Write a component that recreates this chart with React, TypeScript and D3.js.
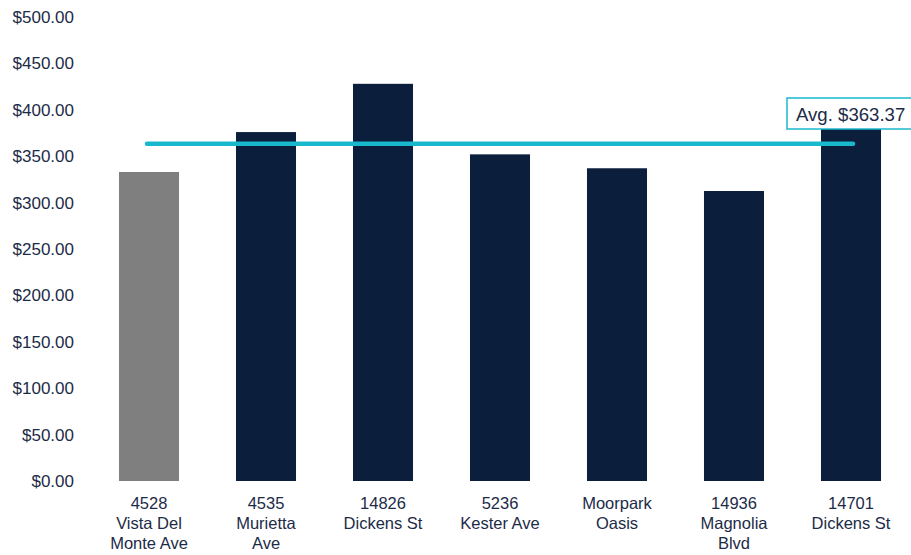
import React from "react";
import * as d3 from "d3";

const categories: string[][] = [
  ["4528", "Vista Del", "Monte Ave"],
  ["4535", "Murietta", "Ave"],
  ["14826", "Dickens St"],
  ["5236", "Kester Ave"],
  ["Moorpark", "Oasis"],
  ["14936", "Magnolia", "Blvd"],
  ["14701", "Dickens St"],
];
const values: number[] = [333, 376, 428, 352, 337, 312.5, 405];
const highlight: boolean[] = [true, false, false, false, false, false, false];
const average = 363.37;
const yTicks: number[] = [0, 50, 100, 150, 200, 250, 300, 350, 400, 450, 500];

const W = 911;
const H = 555;
const FONT = "'Liberation Sans', Arial, sans-serif";
const TEXT = "#1c2b47";

export default function App() {
  const x = d3
    .scaleBand<number>()
    .domain(d3.range(values.length))
    .range([90.5, 909.5])
    .paddingInner(0.487)
    .paddingOuter(0.2435);
  const y = d3.scaleLinear().domain([0, 500]).range([481, 17]);
  const fmt = (v: number) => "$" + d3.format(",.2f")(v);
  const cx = (i: number) => (x(i) as number) + x.bandwidth() / 2;
  const avgY = y(average);
  return (
    <svg
      width={W}
      height={H}
      style={{ position: "absolute", left: 0, top: 0, background: "#fff" }}
      fontFamily={FONT}
    >
      {yTicks.map((t) => (
        <text
          key={t}
          x={74}
          y={y(t)}
          dy="0.35em"
          textAnchor="end"
          fontSize={17}
          fill={TEXT}
        >
          {fmt(t)}
        </text>
      ))}
      {values.map((v, i) => (
        <rect
          key={i}
          x={x(i)}
          y={y(v)}
          width={x.bandwidth()}
          height={y(0) - y(v)}
          fill={highlight[i] ? "#7f7f7f" : "#0b1f3d"}
        />
      ))}
      {categories.map((lines, i) => (
        <text
          key={i}
          x={cx(i)}
          y={509}
          textAnchor="middle"
          fontSize={16.5}
          fill={TEXT}
        >
          {lines.map((l, j) => (
            <tspan key={j} x={cx(i)} dy={j === 0 ? 0 : 20}>
              {l}
            </tspan>
          ))}
        </text>
      ))}
      <line
        x1={cx(0) - 2}
        x2={cx(values.length - 1) + 2}
        y1={avgY}
        y2={avgY}
        stroke="#19b9cd"
        strokeWidth={4.5}
        strokeLinecap="round"
      />
      <rect
        x={787}
        y={98}
        width={130}
        height={31}
        fill="#fff"
        stroke="#19b9cd"
        strokeWidth={1.5}
      />
      <text x={796} y={120.7} fontSize={18.6} fill={TEXT}>
        {"Avg. " + fmt(average)}
      </text>
    </svg>
  );
}
